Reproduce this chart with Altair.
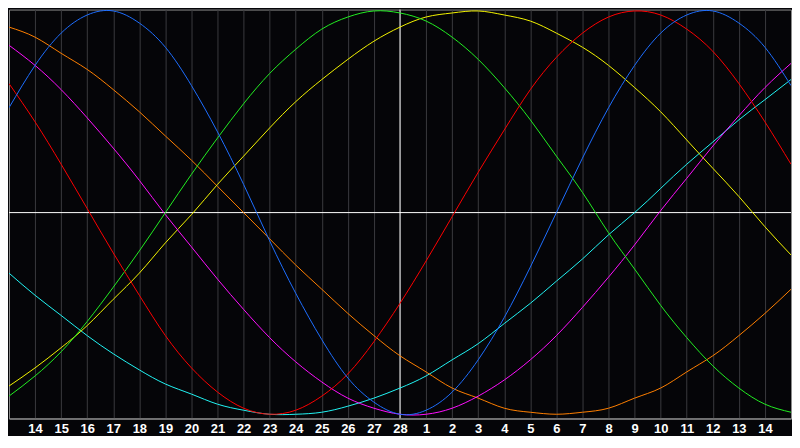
import json
import altair as alt
import pandas as pd

# day positions (0..30) across the plot; tick labels at positions 1..29
positions = list(range(31))
tick_positions = list(range(1, 30))
day_labels = ["14", "15", "16", "17", "18", "19", "20", "21", "22", "23", "24", "25",
              "26", "27", "28", "1", "2", "3", "4", "5", "6", "7", "8", "9", "10",
              "11", "12", "13", "14"]
today_position = 15

# curve values (percent) read at each day position
physical = [52, 73, 89, 98, 100, 94, 82, 63, 40, 14, -14, -40, -63, -82, -94, -100,
            -98, -89, -73, -52, -27, 0, 27, 52, 73, 89, 98, 100, 94, 82, 63]
emotional = [64, 45, 24, 2, -20, -41, -61, -77, -89, -97, -100, -98, -91, -80, -64, -45,
             -24, -2, 20, 41, 61, 77, 89, 97, 100, 98, 91, 80, 64, 45, 24]
intellectual = [-91, -81, -69, -54, -37, -19, 0, 19, 37, 54, 69, 81, 91, 97, 100, 99,
                95, 87, 76, 62, 46, 28, 10, -10, -28, -46, -62, -76, -87, -95, -99]
intuitive = [83, 73, 61, 47, 32, 16, -1, -17, -33, -48, -62, -74, -84, -92, -97, -100,
             -100, -97, -91, -83, -73, -61, -47, -32, -16, 1, 17, 33, 48, 62, 74]
aesthetic = [-86, -77, -67, -56, -43, -30, -15, -1, 14, 28, 42, 55, 66, 76, 85, 92,
             97, 99, 100, 98, 95, 89, 82, 73, 62, 50, 36, 22, 8, -7, -21]
awareness = [92, 87, 79, 71, 61, 50, 38, 26, 13, 0, -13, -26, -38, -50, -61, -71,
             -79, -87, -92, -97, -99, -100, -99, -97, -92, -87, -79, -71, -61, -50, -38]
spiritual = [-30, -41, -51, -61, -70, -78, -85, -90, -95, -98, -100, -100, -99, -96, -92, -87,
             -81, -73, -65, -55, -45, -34, -23, -11, 0, 12, 24, 35, 46, 56, 66]

series_names = ["spiritual", "awareness", "aesthetic", "intuitive", "intellectual", "emotional", "physical"]
series_values = [spiritual, awareness, aesthetic, intuitive, intellectual, emotional, physical]
series_colors = ["#22f4f4", "#ff7f00", "#f4f400", "#ff10ff", "#22ee22", "#ff0000", "#1e6eff"]

rows = []
for name, vals in zip(series_names, series_values):
    for k, v in zip(positions, vals):
        rows.append({"k": k, "v": v, "s": name})
df = pd.DataFrame(rows)

W, H = 784, 410
xscale = alt.Scale(domain=[0, 30], nice=False, zero=False)
yscale = alt.Scale(domain=[-102.1, 100.7], nice=False, zero=False)

label_expr = json.dumps(day_labels) + "[datum.value - 1]"

base_axis = alt.Axis(
    values=tick_positions, labelExpr=label_expr, grid=True, gridColor="#3a3a3e",
    gridWidth=1, ticks=False, domain=True, domainColor="#9a9a9a", labelColor="#ffffff",
    labelFont="Liberation Sans", labelFontWeight="bold", labelFontSize=13,
    labelPadding=4, labelFlush=False, labelOverlap=False, labelBound=False, title=None,
)

vrule = alt.Chart(pd.DataFrame({"k": [today_position]})).mark_rule(
    color="#ffffff", strokeWidth=1
).encode(x=alt.X("k:Q", scale=xscale, axis=base_axis))

hrule = alt.Chart(pd.DataFrame({"v": [0]})).mark_rule(
    color="#ffffff", strokeWidth=1
).encode(y=alt.Y("v:Q", scale=yscale, axis=None))

lines = alt.Chart(df).mark_line(strokeWidth=1, interpolate="natural", clip=True).encode(
    x=alt.X("k:Q", scale=xscale, axis=base_axis),
    y=alt.Y("v:Q", scale=yscale, axis=None),
    color=alt.Color("s:N", scale=alt.Scale(domain=series_names, range=series_colors), legend=None),
    detail="s:N",
)

chart = alt.layer(vrule, hrule, lines).properties(
    width=W, height=H, background="#050508", padding=0
).configure_view(stroke="#8c8c8c", strokeWidth=1).configure_axis(labelOverlap=False)

chart.save("out.html", embed_options={"renderer": "svg", "actions": False})
